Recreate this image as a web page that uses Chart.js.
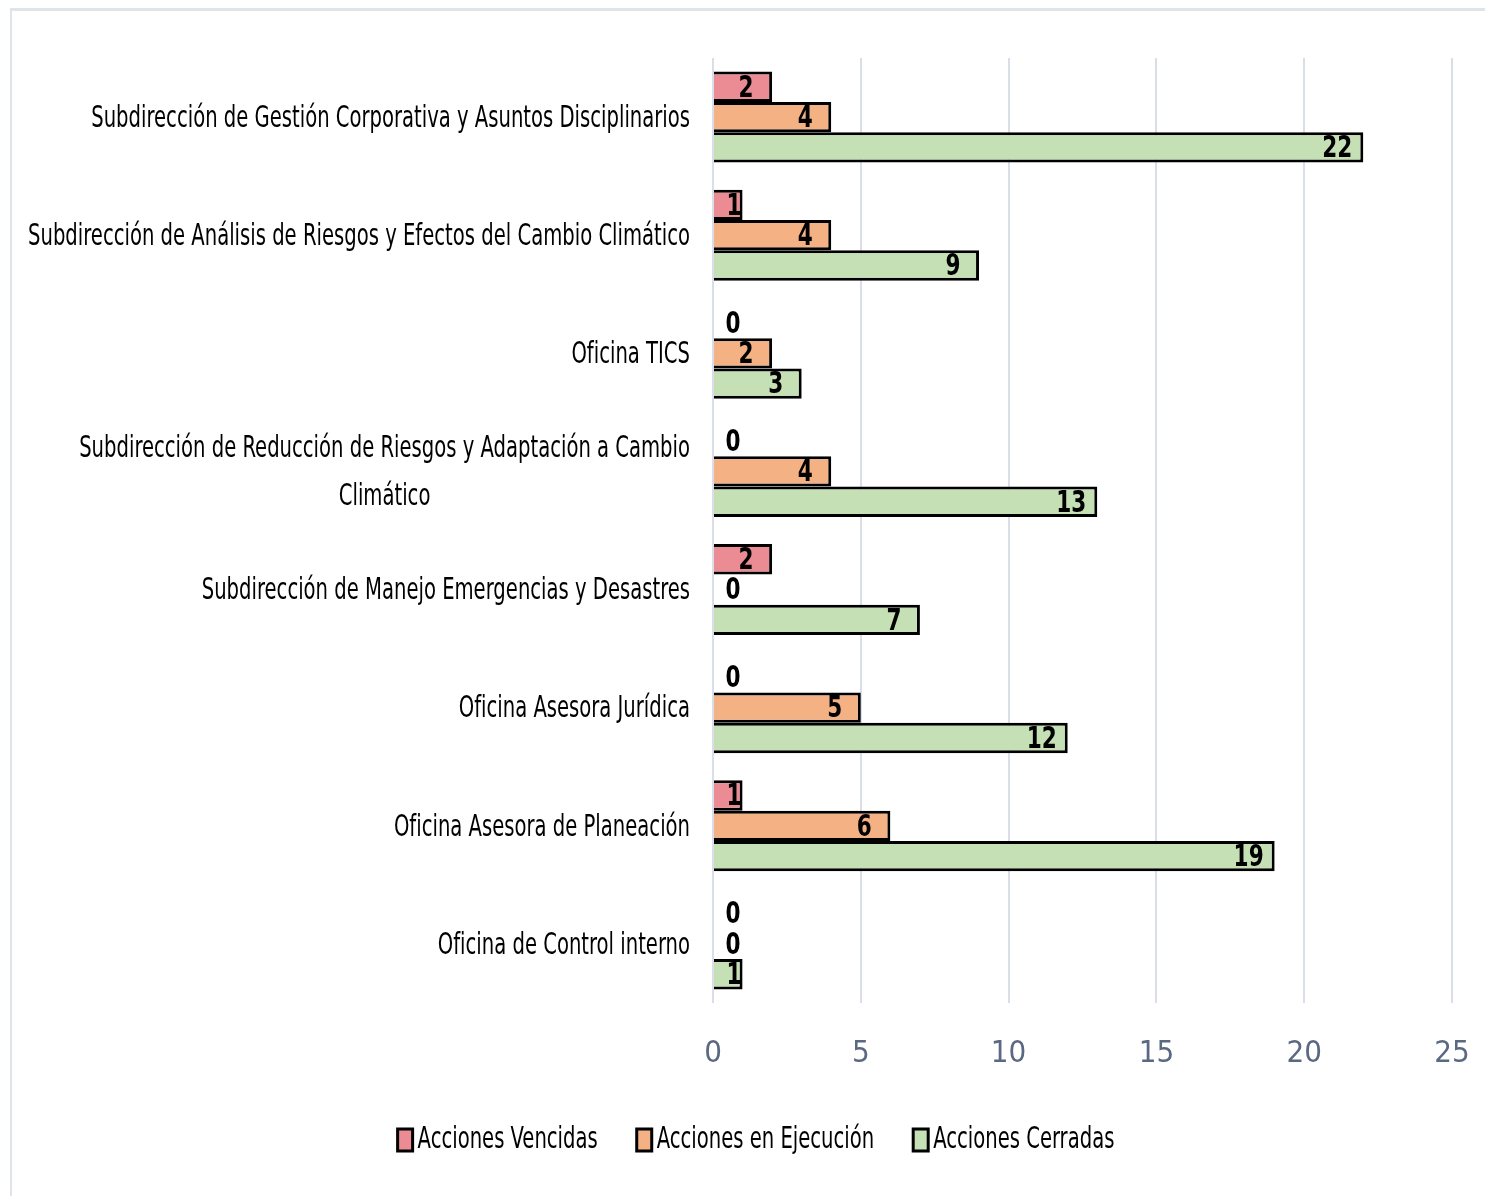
<!DOCTYPE html>
<html lang="es">
<head>
    <meta charset="UTF-8">
    <title>Acciones por dependencia</title>
    <style>
        body { margin: 0; background: #fff; }
        .wrap { position: relative; width: 1485px; height: 1196px; }
        .frame {
            position: absolute; left: 10px; top: 8px; right: 0; bottom: 0;
            border-top: 3px solid #dfe3ea; border-left: 2px solid #dfe3ea;
            pointer-events: none;
        }
        canvas { position: absolute; left: 0; top: 0; }
    </style>
    <script src="https://cdn.jsdelivr.net/npm/chart.js"></script>
</head>
<body>
<div class="wrap">
    <canvas id="chart" width="1485" height="1196"></canvas>
    <div class="frame"></div>
</div>
<script>
    // categories (top to bottom)
    const categories = [
        'Subdirección de Gestión Corporativa y Asuntos Disciplinarios',
        'Subdirección de Análisis de Riesgos y Efectos del Cambio Climático',
        'Oficina TICS',
        ['Subdirección de Reducción de Riesgos y Adaptación a Cambio', 'Climático'],
        'Subdirección de Manejo Emergencias y Desastres',
        'Oficina Asesora Jurídica',
        'Oficina Asesora de Planeación',
        'Oficina de Control interno'
    ];
    const seriesNames = ['Acciones Vencidas', 'Acciones en Ejecución', 'Acciones Cerradas'];
    const vencidas  = [2, 1, 0, 0, 2, 0, 1, 0];
    const ejecucion = [4, 4, 2, 4, 0, 5, 6, 0];
    const cerradas  = [22, 9, 3, 13, 7, 12, 19, 1];
    const xTicks = [0, 5, 10, 15, 20, 25];
    const colors = ['#eb8b93', '#f4b183', '#c5e0b4'];

    const FONT = '"Liberation Sans Narrow", "DejaVu Sans Condensed", "Liberation Sans", sans-serif';
    let squeeze = 0.85;

    function squeezedText(ctx, txt, x, y, sx) {
        ctx.save();
        ctx.translate(x, y);
        ctx.scale(sx, 1);
        ctx.fillText(txt, 0, 0);
        ctx.restore();
    }

    // category labels on the left, right aligned, extra lines centred under the first
    const catLabels = {
        id: 'catLabels',
        afterDraw(chart) {
            const ctx = chart.ctx;
            const y = chart.scales.y;
            const right = 690;
            ctx.save();
            ctx.fillStyle = '#000';
            ctx.font = '30px ' + FONT;
            ctx.textBaseline = 'middle';
            ctx.textAlign = 'left';
            // the longest label spans from x=28 to the axis gap
            squeeze = (right - 28) / ctx.measureText(categories[1]).width;
            categories.forEach((lab, i) => {
                const cy = y.getPixelForValue(i) + 2;
                const lines = Array.isArray(lab) ? lab : [lab];
                const lh = 48;
                const y0 = cy - (lines.length - 1) * lh / 2;
                const w0 = ctx.measureText(lines[0]).width * squeeze;
                const mid = right - w0 / 2;
                lines.forEach((ln, k) => {
                    const w = ctx.measureText(ln).width * squeeze;
                    const lx = k === 0 ? right - w : mid - w / 2;
                    squeezedText(ctx, ln, lx, y0 + k * lh, squeeze);
                });
            });

            // legend
            const boxW = 15, boxH = 22, gapText = 5, gapItem = 39;
            const widths = seriesNames.map(n => ctx.measureText(n).width * squeeze);
            const total = widths.reduce((a, b) => a + b, 0) + seriesNames.length * (boxW + gapText) + gapItem * (seriesNames.length - 1);
            let lx = 756 - total / 2;
            const ly = 1140;
            seriesNames.forEach((n, i) => {
                ctx.fillStyle = colors[i];
                ctx.fillRect(lx, ly - boxH / 2, boxW, boxH);
                ctx.strokeStyle = '#000';
                ctx.lineWidth = 3;
                ctx.strokeRect(lx, ly - boxH / 2, boxW, boxH);
                ctx.fillStyle = '#000';
                squeezedText(ctx, n, lx + boxW + gapText, ly, squeeze);
                lx += boxW + gapText + widths[i] + gapItem;
            });
            ctx.restore();
        }
    };

    // value labels at the inside end of every bar
    const valueLabels = {
        id: 'valueLabels',
        afterDatasetsDraw(chart) {
            const ctx = chart.ctx;
            ctx.save();
            ctx.fillStyle = '#000';
            ctx.font = 'bold 30px ' + FONT;
            ctx.textBaseline = 'middle';
            ctx.textAlign = 'center';
            chart.data.datasets.forEach((ds, di) => {
                chart.getDatasetMeta(di).data.forEach((el, i) => {
                    const cx = Math.max(el.x - 26, el.base + 20);
                    squeezedText(ctx, String(ds.data[i]), cx, el.y + 2, 0.8);
                });
            });
            ctx.restore();
        }
    };

    new Chart(document.getElementById('chart'), {
        type: 'bar',
        data: {
            labels: categories,
            datasets: [vencidas, ejecucion, cerradas].map((d, i) => ({
                label: seriesNames[i],
                data: d,
                backgroundColor: colors[i],
                borderColor: '#000', borderWidth: 3, borderSkipped: 'start',
                barPercentage: 1, categoryPercentage: 0.77
            }))
        },
        options: {
            indexAxis: 'y',
            responsive: false,
            animation: false,
            devicePixelRatio: 1,
            layout: { padding: { top: 58, right: 33, bottom: 93, left: 0 } },
            scales: {
                x: {
                    min: 0, max: 25,
                    afterBuildTicks(s) { s.ticks = xTicks.map(v => ({ value: v })); },
                    afterFit(s) { s.height = 100; s.paddingLeft = 0; s.paddingRight = 0; },
                    grid: { color: '#d9dee8', lineWidth: 2, drawTicks: false },
                    border: { display: false },
                    ticks: { color: '#5b6882', padding: 32, font: { family: FONT, size: 31 } }
                },
                y: {
                    afterFit(s) { s.width = 713; },
                    grid: { display: false },
                    border: { display: false },
                    ticks: { display: false }
                }
            },
            plugins: {
                tooltip: { enabled: false },
                legend: { display: false }
            }
        },
        plugins: [catLabels, valueLabels]
    });
</script>
</body>
</html>
